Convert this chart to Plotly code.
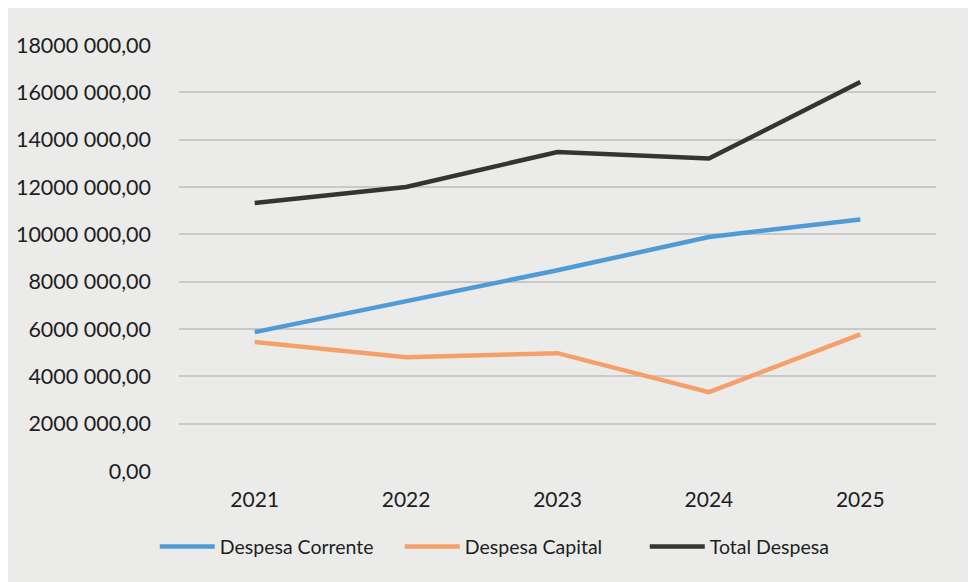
import plotly.graph_objects as go

years = ["2021", "2022", "2023", "2024", "2025"]
despesa_corrente = [5870000, 7180000, 8480000, 9890000, 10630000]
despesa_capital = [5450000, 4810000, 4980000, 3330000, 5770000]
total_despesa = [11320000, 12000000, 13480000, 13200000, 16440000]

tick_vals = [0, 2000000, 4000000, 6000000, 8000000, 10000000, 12000000, 14000000, 16000000, 18000000]
tick_text = ["0,00", "2000 000,00", "4000 000,00", "6000 000,00", "8000 000,00",
             "10000 000,00", "12000 000,00", "14000 000,00", "16000 000,00", "18000 000,00"]

series = [
    ("Despesa Corrente", despesa_corrente, "#4f9bd6"),
    ("Despesa Capital", despesa_capital, "#f5a06a"),
    ("Total Despesa", total_despesa, "#333533"),
]

fig = go.Figure()
for name, vals, color in series:
    fig.add_trace(go.Scatter(x=years, y=vals, mode="lines", name=name,
                             line=dict(color=color, width=4.5)))

fig.update_layout(
    width=976, height=582,
    paper_bgcolor="#ebebea", plot_bgcolor="#ebebea",
    margin=dict(l=171, r=48, t=37, b=119, autoexpand=False),
    font=dict(family="Lato, Open Sans, sans-serif", size=20, color="#1e1e1e"),
    showlegend=True,
    legend=dict(orientation="h", x=-0.032, xanchor="left", y=-0.178, yanchor="middle",
                font=dict(size=19.5), bgcolor="rgba(0,0,0,0)", itemwidth=55,
                entrywidth=175, entrywidthmode="pixels", tracegroupgap=0),
)
fig.update_xaxes(type="category", range=[-0.5, 4.5], showgrid=False, showline=False,
                 zeroline=False, ticks="", tickfont=dict(size=21), ticklabelstandoff=14)
fig.update_yaxes(range=[0, 18000000], tickvals=tick_vals, ticktext=tick_text,
                 tickfont=dict(size=21.5),
                 showgrid=True, gridcolor="#c9c9c8", gridwidth=1.5, zeroline=False,
                 showline=False, ticks="", ticklabelstandoff=27)

fig.write_html("out.html")
